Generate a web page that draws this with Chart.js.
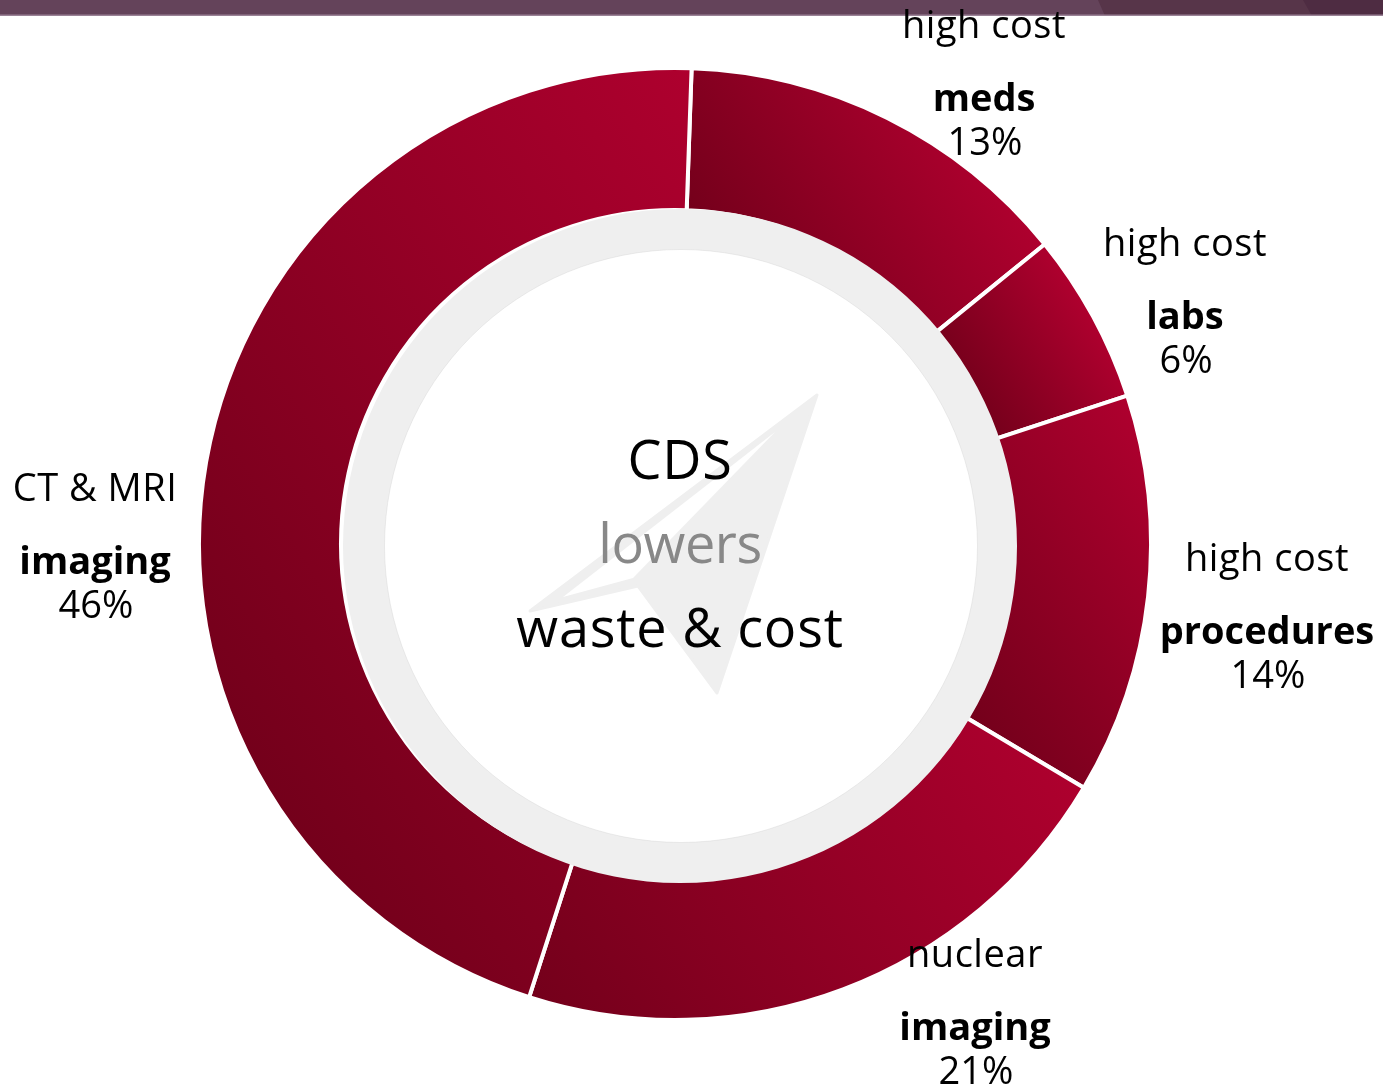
<!DOCTYPE html>
<html>
<head>
<meta charset="utf-8">
<style>
html,body{margin:0;padding:0;background:#fff;overflow:hidden;width:1383px;height:1087px}
#bar{position:absolute;left:0;top:0;width:1383px;height:16px}
#bar svg{position:absolute;left:0;top:0}
#c{position:absolute;left:0;top:0}
</style>
</head>
<body>
<div id="bar"><svg width="1383" height="16">
<rect x="0" y="0" width="1383" height="16" fill="#64435a"/>
<polygon points="1098,0 1383,0 1383,16 1105,16" fill="#573549"/>
<polygon points="1303,0 1383,0 1383,16 1312,16" fill="#4e2c42"/>
<rect x="0" y="14.5" width="1383" height="1.5" fill="#9a8296"/>
</svg></div>
<canvas id="c" width="1383" height="1087"></canvas>
<script src="https://cdn.jsdelivr.net/npm/chart.js@4/dist/chart.umd.min.js"></script>
<script>
const categories = ['meds','labs','procedures','nuclear imaging','CT & MRI imaging'];
const values = [13.6,5.8,13.6,21.4,45.6];
const labelTop = ['high cost','high cost','high cost','nuclear','CT & MRI'];
const labelBold = ['meds','labs','procedures','imaging','imaging'];
const labelPct = ['13%','6%','14%','21%','46%'];
const centerLines = ['CDS','lowers','waste & cost'];

const FONT = '"Open Sans"';
const labelX = [984,1185,1267,975,95];
const labelY = [38,256,571,967,501];
const ROT = 2;
const OUTER = 474, INNER = 334;
const GRAD_ANGLE = 32 * Math.PI / 180;

function sliceGradient(ctx){
  const chart = ctx.chart, a = chart.chartArea;
  if(!a) return '#900024';
  const cx=(a.left+a.right)/2, cy=(a.top+a.bottom)/2;
  const ux=Math.cos(GRAD_ANGLE), uy=-Math.sin(GRAD_ANGLE);
  const total = values.reduce((s,v)=>s+v,0);
  let start = ROT;
  for(let i=0;i<ctx.dataIndex;i++) start += values[i]/total*360;
  const end = start + values[ctx.dataIndex]/total*360;
  let lo=Infinity, hi=-Infinity;
  for(let t=start;t<=end+.01;t+=1){
    const r=(t-90)*Math.PI/180;
    for(const R of [OUTER,INNER]){
      const p=R*Math.cos(r)*ux+R*Math.sin(r)*uy;
      if(p<lo)lo=p; if(p>hi)hi=p;
    }
  }
  const g=chart.ctx.createLinearGradient(cx+lo*ux,cy+lo*uy,cx+hi*ux,cy+hi*uy);
  g.addColorStop(0,'#74001b');
  g.addColorStop(1,'#ae002e');
  return g;
}

const decor = {
  id:'decor',
  afterDatasetsDraw(chart){
    const c=chart.ctx, arc=chart.getDatasetMeta(0).data[0];
    const rx=arc.x+5, ry=arc.y+2;
    c.save();
    c.beginPath();
    c.arc(rx,ry,337,0,Math.PI*2);
    c.arc(rx+1,ry,296.5,0,Math.PI*2,true);
    c.fillStyle='#efefef';
    c.fill('evenodd');
    c.beginPath();
    c.arc(rx+1,ry,296.5,0,Math.PI*2);
    c.strokeStyle='#d8d8d8';c.lineWidth=.5;c.stroke();
    // arrow
    c.beginPath();
    c.moveTo(817,395);c.lineTo(717,693);c.lineTo(638,586);c.lineTo(530,611);c.closePath();
    c.fillStyle='#efefef';c.strokeStyle='#efefef';c.lineWidth=3;c.lineJoin='round';c.fill();c.stroke();
    c.beginPath();
    c.moveTo(563,597);c.lineTo(633,578);c.lineTo(775,432);c.closePath();
    c.fillStyle='#fff';c.fill();
    // centre text
    c.textAlign='center';c.textBaseline='alphabetic';
    const cols=['#000','#888','#000'], ys=[479,563,647], sp=['0.8px','-0.4px','0.8px'];
    c.font='54px '+FONT;
    centerLines.forEach((t,i)=>{c.letterSpacing=sp[i];c.fillStyle=cols[i];c.fillText(t,680,ys[i]);});
    // labels
    c.fillStyle='#000';
    labelTop.forEach((t,i)=>{
      c.font='38px '+FONT;
      c.letterSpacing='0.5px';
      c.fillText(t,labelX[i],labelY[i]);
      c.font='bold 38px '+FONT;
      c.letterSpacing='0px';
      c.fillText(labelBold[i],labelX[i],labelY[i]+73);
      c.font='38px '+FONT;
      c.fillText(labelPct[i],labelX[i]+1,labelY[i]+117);
    });
    c.restore();
  }
};

new Chart(document.getElementById('c'),{
  type:'doughnut',
  data:{labels:categories,datasets:[{data:values,backgroundColor:sliceGradient,borderColor:'#fff',borderWidth:4,borderAlign:'center'}]},
  options:{
    responsive:false,animation:false,rotation:ROT,cutout:INNER,
    layout:{padding:{left:197,right:230,top:66,bottom:65}},
    plugins:{legend:{display:false},tooltip:{enabled:false}},
    events:[]
  },
  plugins:[decor]
});
</script>
</body>
</html>
